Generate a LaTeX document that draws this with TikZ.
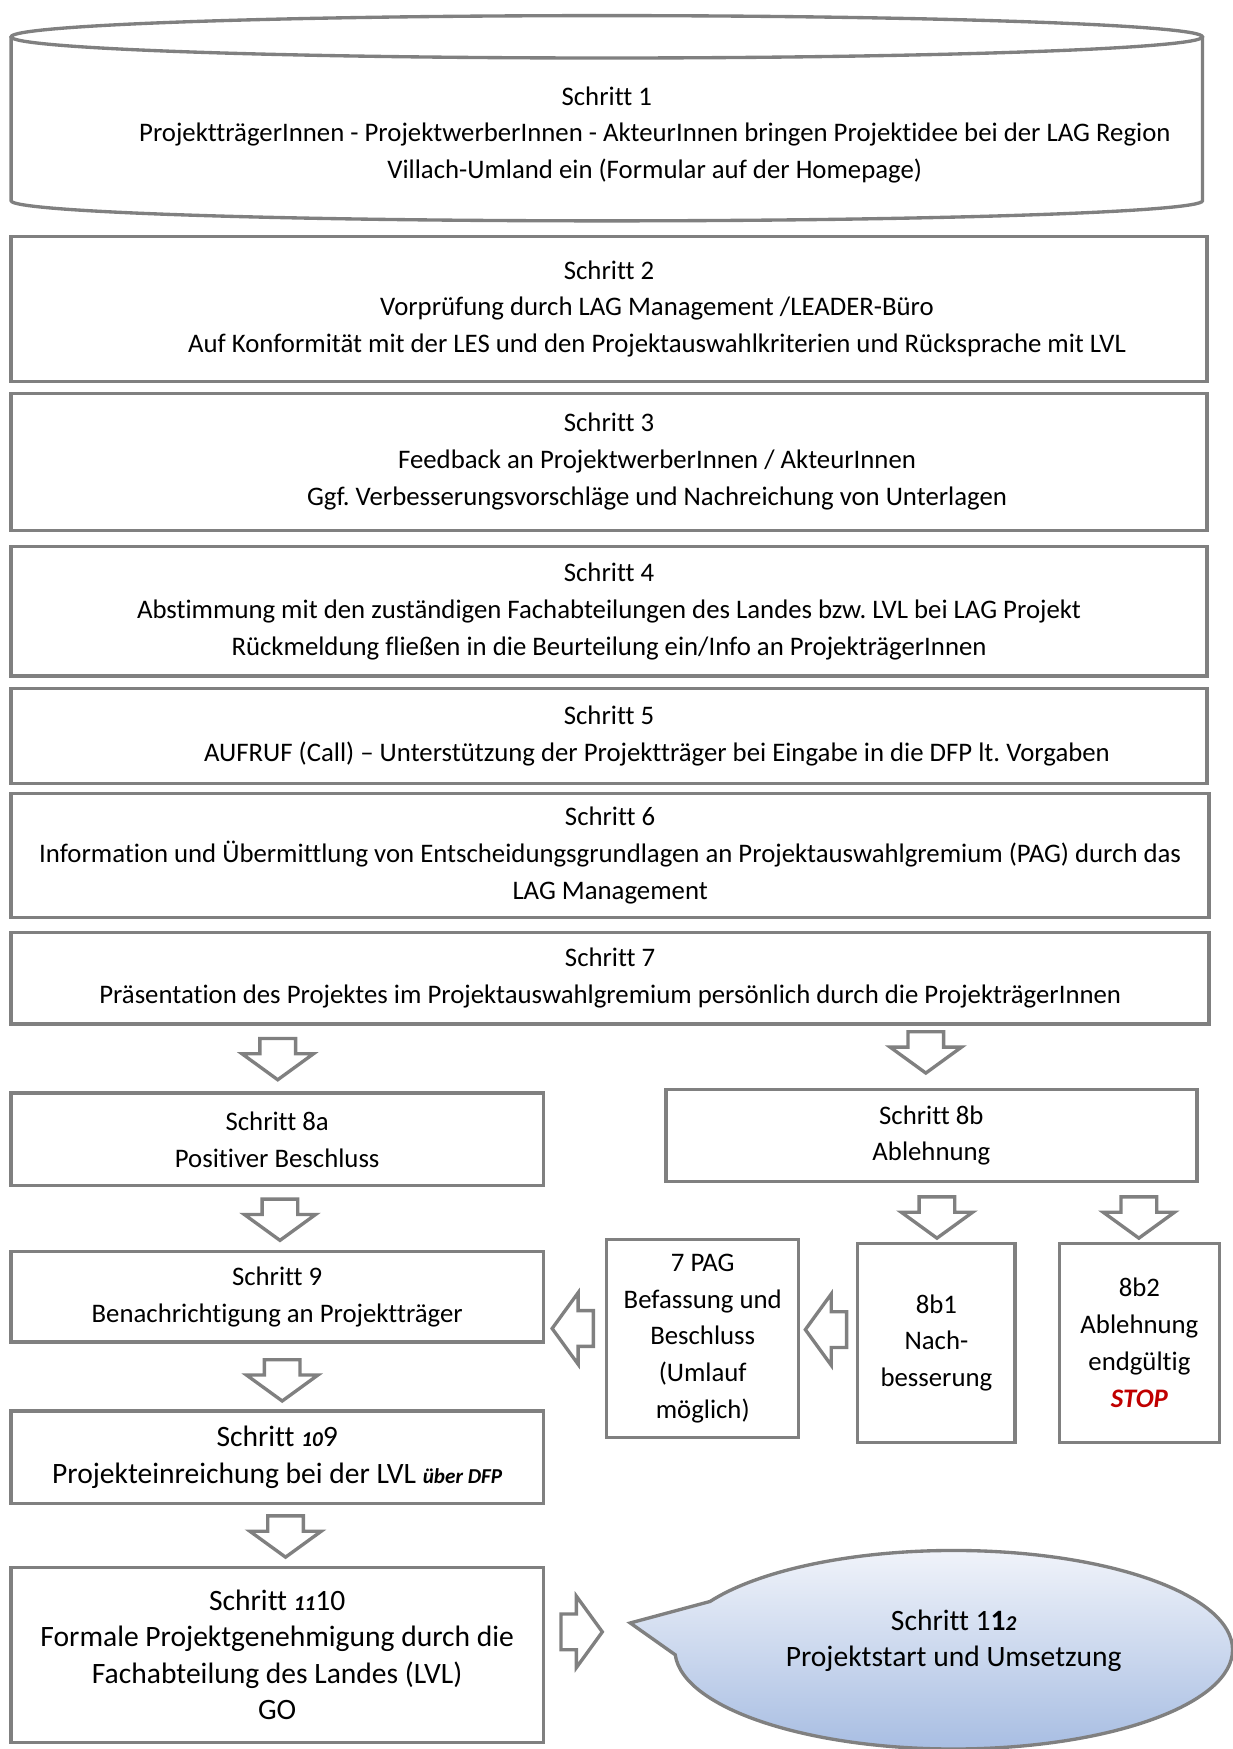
\documentclass[tikz,border=0pt]{standalone}
\usepackage{fontspec}
\setmainfont{Carlito}[Ligatures={NoCommon}]
\usetikzlibrary{shapes.arrows,shapes.callouts}
\definecolor{linegray}{HTML}{808080}
\definecolor{stopred}{HTML}{C00000}
\definecolor{calltop}{HTML}{F0F3FA}
\definecolor{callbottom}{HTML}{A7BDE2}
\newcommand{\ind}{\hspace*{86pt}}
\newcommand{\bi}[1]{{\fontsize{19}{20}\selectfont\bfseries\itshape #1}}
\frenchspacing
\tikzset{
  stepbox/.style={draw=linegray, line width=3pt, rectangle, align=center, inner sep=0pt,
    font=\fontsize{24}{33}\selectfont},
  bigbox/.style={stepbox, font=\fontsize{26.5}{32.5}\selectfont},
  blockarrow/.style={draw=linegray, line width=3pt, fill=white, single arrow, anchor=tail,
    minimum height=37pt, minimum width=61pt, single arrow head extend=16pt,
    single arrow tip angle=108, inner xsep=0pt, inner ysep=14.5pt}
}
\begin{document}
\begin{tikzpicture}[x=1pt, y=-1pt]
      \useasboundingbox (0,0) rectangle (1105,1568);
      \draw[linegray, line width=3pt] (10,33) -- (10,180)
        arc[start angle=180, end angle=0, x radius=534, y radius=18] -- (1078,33);
      \draw[linegray, line width=3pt] (544,33) ellipse [x radius=534, y radius=19];
      \node[align=center, font=\fontsize{24}{33}\selectfont] (s1) at (544,121)
        {Schritt 1\\ \ind ProjektträgerInnen - ProjektwerberInnen - AkteurInnen bringen Projektidee bei der LAG Region\\
         \ind Villach-Umland ein (Formular auf der Homepage)};
      \node[stepbox, minimum width=1072pt, minimum height=130pt] (s2) at (546,277)
        {Schritt 2\\ \ind Vorprüfung durch LAG Management /LEADER-Büro\\
         \ind Auf Konformität mit der LES und den Projektauswahlkriterien und Rücksprache mit LVL};
      \node[stepbox, minimum width=1072pt, minimum height=123pt] (s3) at (546,414)
        {Schritt 3\\ \ind Feedback an ProjektwerberInnen / AkteurInnen\\
         \ind Ggf. Verbesserungsvorschläge und Nachreichung von Unterlagen};
      \node[stepbox, minimum width=1072pt, minimum height=116pt] (s4) at (546,548)
        {Schritt 4\\ Abstimmung mit den zuständigen Fachabteilungen des Landes bzw. LVL bei LAG Projekt\\
         Rückmeldung fließen in die Beurteilung ein/Info an ProjekträgerInnen};
      \node[stepbox, minimum width=1072pt, minimum height=85pt] (s5) at (546,660)
        {Schritt 5\\ \ind AUFRUF (Call) – Unterstützung der Projektträger bei Eingabe in die DFP lt. Vorgaben};
      \node[stepbox, minimum width=1074pt, minimum height=111pt] (s6) at (547,767)
        {Schritt 6\\ Information und Übermittlung von Entscheidungsgrundlagen an Projektauswahlgremium (PAG) durch das\\
         LAG Management};
      \node[stepbox, minimum width=1074pt, minimum height=82pt] (s7) at (547,877)
        {Schritt 7\\ Präsentation des Projektes im Projektauswahlgremium persönlich durch die ProjekträgerInnen};
      \node[blockarrow, rotate=-90] (a7a) at (249,929.5) {};
      \node[blockarrow, rotate=-90] (a7b) at (830,923.5) {};
      \node[stepbox, minimum width=477pt, minimum height=83pt] (s8a) at (248.5,1021.5)
        {Schritt 8a\\ Positiver Beschluss};
      \node[stepbox, minimum width=476pt, minimum height=82pt] (s8b) at (835,1018)
        {Schritt 8b\\ Ablehnung};
      \node[blockarrow, rotate=-90] (a8a) at (251,1073.5) {};
      \node[blockarrow, rotate=-90] (a8b1) at (840,1071.5) {};
      \node[blockarrow, rotate=-90] (a8b2) at (1021,1071.5) {};
      \node[stepbox, minimum width=477pt, minimum height=81pt] (s9) at (248.5,1162.5)
        {Schritt 9\\ Benachrichtigung an Projektträger};
      \node[stepbox, minimum width=172pt, minimum height=178pt] (pag) at (630,1200)
        {7 PAG\\ Befassung und\\ Beschluss\\ (Umlauf\\ möglich)};
      \node[stepbox, minimum width=141pt, minimum height=178pt] (s8b1) at (839.5,1204)
        {8b1\\ Nach-\\ besserung};
      \node[stepbox, minimum width=143pt, minimum height=178pt] (s8b2) at (1021.5,1204)
        {8b2\\ Ablehnung\\ endgültig\\ \textcolor{stopred}{\bfseries\itshape STOP}};
      \node[blockarrow, rotate=180] (ab1) at (760.5,1192) {};
      \node[blockarrow, rotate=180] (apag) at (533.5,1191) {};
      \node[blockarrow, rotate=-90] (a9) at (253,1217.5) {};
      \node[bigbox, minimum width=477pt, minimum height=83pt] (s10) at (248.5,1306.5)
        {Schritt \bi{10}9\\ Projekteinreichung bei der LVL \bi{über DFP}};
      \node[blockarrow, rotate=-90] (a10) at (256,1357.5) {};
      \node[bigbox, minimum width=477pt, minimum height=157pt] (s11) at (248.5,1483.5)
        {Schritt \bi{11}10\\ Formale Projektgenehmigung durch die\\ Fachabteilung des Landes (LVL)\\ GO};
      \node[blockarrow] (a11) at (501.5,1463) {};
      \coordinate (tip) at (565,1455);
      \node[ellipse callout, callout absolute pointer={(tip)}, callout pointer arc=32,
        draw=linegray, line width=3pt, top color=calltop, bottom color=callbottom,
        minimum width=500pt, minimum height=178pt, align=center, text depth=21pt,
        font=\fontsize{26.5}{32.5}\selectfont] (s12) at (855,1479)
        {Schritt 1\textbf{1}\bi{2}\\ Projektstart und Umsetzung};
    \end{tikzpicture}
\end{document}
